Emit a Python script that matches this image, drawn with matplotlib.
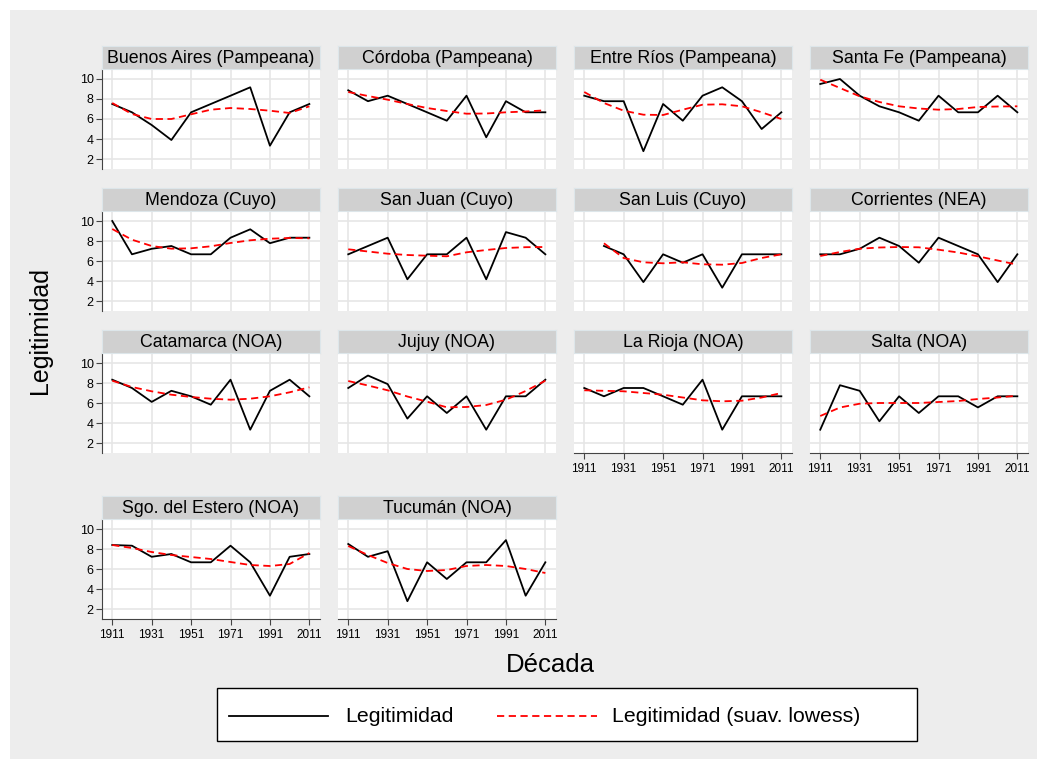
import numpy as np
import matplotlib.pyplot as plt
from matplotlib.lines import Line2D
from matplotlib.patches import Rectangle

plt.rcParams['font.family'] = ['Liberation Sans', 'DejaVu Sans']

decadas = [1911, 1921, 1931, 1941, 1951, 1961, 1971, 1981, 1991, 2001, 2011]
nan = np.nan

provincias = [
    "Buenos Aires (Pampeana)", "Córdoba (Pampeana)", "Entre Ríos (Pampeana)", "Santa Fe (Pampeana)",
    "Mendoza (Cuyo)", "San Juan (Cuyo)", "San Luis (Cuyo)", "Corrientes (NEA)",
    "Catamarca (NOA)", "Jujuy (NOA)", "La Rioja (NOA)", "Salta (NOA)",
    "Sgo. del Estero (NOA)", "Tucumán (NOA)",
]

# Legitimidad por década
legitimidad = [
    [7.5, 6.67, 5.4, 3.9, 6.67, 7.5, 8.33, 9.17, 3.33, 6.67, 7.5],
    [8.87, 7.78, 8.33, 7.5, 6.67, 5.83, 8.33, 4.17, 7.78, 6.67, 6.67],
    [8.33, 7.78, 7.78, 2.78, 7.5, 5.83, 8.33, 9.17, 7.78, 5.0, 6.67],
    [9.5, 10.0, 8.33, 7.27, 6.67, 5.83, 8.33, 6.67, 6.67, 8.33, 6.67],
    [10.0, 6.67, 7.22, 7.5, 6.67, 6.67, 8.33, 9.17, 7.78, 8.33, 8.33],
    [6.67, 7.5, 8.33, 4.17, 6.67, 6.67, 8.33, 4.17, 8.89, 8.33, 6.67],
    [nan, 7.5, 6.67, 3.89, 6.67, 5.83, 6.67, 3.33, 6.67, 6.67, 6.67],
    [6.67, 6.67, 7.22, 8.33, 7.5, 5.83, 8.33, 7.5, 6.67, 3.89, 6.67],
    [8.33, 7.5, 6.11, 7.22, 6.67, 5.83, 8.33, 3.33, 7.22, 8.33, 6.67],
    [7.5, 8.75, 7.89, 4.44, 6.67, 5.0, 6.67, 3.33, 6.67, 6.67, 8.33],
    [7.5, 6.67, 7.5, 7.5, 6.67, 5.83, 8.33, 3.33, 6.67, 6.67, 6.67],
    [3.33, 7.78, 7.22, 4.17, 6.67, 5.0, 6.67, 6.67, 5.56, 6.67, 6.67],
    [8.4, 8.33, 7.22, 7.5, 6.67, 6.67, 8.33, 6.67, 3.33, 7.22, 7.5],
    [8.5, 7.22, 7.78, 2.78, 6.67, 5.0, 6.67, 6.67, 8.89, 3.33, 6.67],
]

# Legitimidad suavizada (lowess)
lowess = [
    [7.6, 6.5, 6.0, 6.0, 6.47, 6.93, 7.1, 7.0, 6.83, 6.6, 7.27],
    [8.7, 8.3, 7.93, 7.5, 7.1, 6.8, 6.53, 6.55, 6.67, 6.75, 6.87],
    [8.7, 7.6, 6.83, 6.43, 6.4, 6.93, 7.43, 7.47, 7.27, 6.67, 6.0],
    [9.93, 9.1, 8.27, 7.7, 7.27, 7.05, 6.93, 7.0, 7.2, 7.25, 7.27],
    [9.2, 8.13, 7.5, 7.23, 7.27, 7.47, 7.8, 8.07, 8.23, 8.3, 8.27],
    [7.17, 6.95, 6.73, 6.6, 6.53, 6.47, 6.87, 7.1, 7.3, 7.38, 7.4],
    [nan, 7.77, 6.3, 5.87, 5.77, 5.87, 5.67, 5.63, 5.8, 6.3, 6.67],
    [6.5, 6.9, 7.23, 7.35, 7.4, 7.37, 7.13, 6.85, 6.47, 6.05, 5.63],
    [8.23, 7.6, 7.17, 6.83, 6.6, 6.43, 6.33, 6.43, 6.67, 7.07, 7.57],
    [8.2, 7.75, 7.27, 6.65, 6.13, 5.57, 5.6, 5.8, 6.33, 7.2, 8.23],
    [7.27, 7.22, 7.17, 7.0, 6.83, 6.55, 6.27, 6.17, 6.23, 6.55, 7.0],
    [4.7, 5.55, 5.93, 6.0, 6.0, 6.0, 6.1, 6.2, 6.4, 6.55, 6.73],
    [8.4, 8.1, 7.7, 7.4, 7.2, 7.0, 6.7, 6.4, 6.3, 6.5, 7.6],
    [8.3, 7.4, 6.6, 6.0, 5.8, 5.9, 6.3, 6.4, 6.3, 6.0, 5.6],
]

W, H = 1047, 769
fig = plt.figure(figsize=(W / 100, H / 100), dpi=100, facecolor='white')
fig.add_artist(Rectangle((10 / W, 10 / H), 1 - 20 / W, 1 - 20 / H,
                         transform=fig.transFigure, facecolor='#ededed',
                         edgecolor='none', zorder=-10))


def rect(left, top, w, h):
    return [left / W, 1 - (top + h) / H, w / W, h / H]


col_left = [102, 338, 574, 810]
row_top = [69, 211, 353, 519]
pw, ph, sh = 218, 100, 23
# panels with x labels: cols 3-4 on row 3, cols 1-2 on row 4
xlabel_panels = {10, 11, 12, 13}

for i, name in enumerate(provincias):
    r, c = divmod(i, 4)
    ax = fig.add_axes(rect(col_left[c], row_top[r], pw, ph))
    ax.set_facecolor('white')
    ax.plot(decadas, legitimidad[i], color='black', lw=1.3, zorder=3)
    ax.plot(decadas, lowess[i], color='red', lw=1.3, ls=(0, (4, 2.5)), zorder=4)
    ax.set_xlim(1905.8, 2016.4)
    ax.set_ylim(1.0, 11.0)
    ax.set_xticks(range(1911, 2012, 20))
    ax.set_yticks([2, 4, 6, 8, 10])
    ax.grid(True, color='#e6e6e6', lw=1.2)
    ax.set_axisbelow(True)
    for s in ['top', 'right']:
        ax.spines[s].set_visible(False)
    ax.spines['left'].set_visible(c == 0)
    ax.spines['bottom'].set_visible(i in xlabel_panels)
    ax.spines['left'].set_color('#444444')
    ax.spines['bottom'].set_color('#444444')
    ax.tick_params(axis='y', length=4 if c == 0 else 0, labelleft=(c == 0),
                   labelsize=9, color='#444444', pad=2)
    ax.tick_params(axis='x', length=4 if i in xlabel_panels else 0,
                   labelbottom=(i in xlabel_panels), labelsize=8.5,
                   color='#444444', pad=3)
    # strip title
    sax = fig.add_axes(rect(col_left[c], row_top[r] - sh, pw, sh))
    sax.set_facecolor('#d0d0d0')
    sax.set_xticks([])
    sax.set_yticks([])
    for s in sax.spines.values():
        s.set_color('#dde6ea')
    sax.text(0.5, 0.45, name, ha='center', va='center', fontsize=12.8,
             transform=sax.transAxes)

fig.text(40 / W, 1 - 330 / H, 'Legitimidad', rotation=90, ha='center',
         va='center', fontsize=18)
fig.text(550 / W, 1 - 665 / H, 'Década', ha='center', va='center', fontsize=18.5)

# legend box drawn in figure pixels
fig.add_artist(Rectangle((217 / W, 1 - 741 / H), 700 / W, 53 / H,
                         transform=fig.transFigure, facecolor='white',
                         edgecolor='black', lw=1.0))
ly = 1 - 716 / H
fig.add_artist(Line2D([229 / W, 328 / W], [ly, ly], color='black', lw=1.3,
                      transform=fig.transFigure))
fig.add_artist(Line2D([497 / W, 597 / W], [ly, ly], color='red', lw=1.3,
                      ls=(0, (4, 2.5)), transform=fig.transFigure))
fig.text(345 / W, ly, 'Legitimidad', ha='left', va='center', fontsize=15.3)
fig.text(612 / W, ly, 'Legitimidad (suav. lowess)', ha='left', va='center',
         fontsize=15.3)

fig.savefig('out.png', dpi=100, facecolor=fig.get_facecolor())
